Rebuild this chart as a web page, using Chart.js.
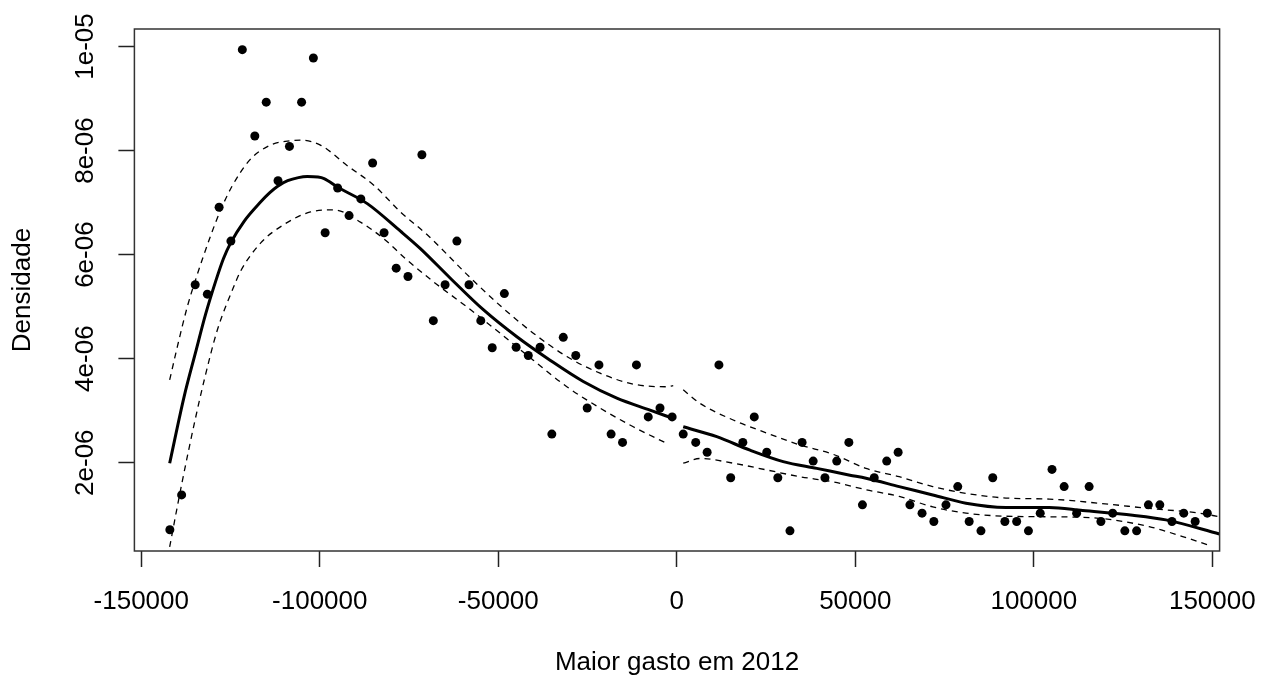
<!DOCTYPE html>
<html><head><meta charset="utf-8">
<script src="https://cdn.jsdelivr.net/npm/chart.js@4.4.1/dist/chart.umd.min.js"></script>
<style>html,body{margin:0;padding:0;background:#fff;overflow:hidden}canvas{display:block}</style>
</head><body>
<canvas id="c" width="1268" height="682"></canvas>
<script>
// ---- data (y values in units of 1e-6) ----
const pointX = [-142000,-138700,-134900,-131500,-128200,-124900,-121700,-118200,-115000,-111700,
  -108500,-105100,-101800,-98500,-95000,-91800,-88500,-85200,-82000,-78600,
  -75300,-71400,-68200,-64900,-61600,-58200,-54900,-51700,-48300,-45000,
  -41600,-38300,-35000,-31800,-28300,-25100,-21800,-18400,-15200,-11300,
  -8000,-4700,-1300,1800,5300,8500,11800,15100,18500,21700,
  25200,28300,31700,35100,38200,41500,44800,48200,52000,55300,
  58800,62000,65300,68700,72000,75400,78700,81900,85200,88500,
  91900,95200,98500,101800,105100,108500,112000,115500,118800,122100,
  125500,128800,132100,135300,138700,142000,145200,148600];
const pointY = [0.71,1.38,5.42,5.24,6.91,6.26,9.94,8.28,8.93,7.42,
  8.08,8.93,9.78,6.42,7.28,6.75,7.07,7.76,6.42,5.74,
  5.58,7.92,4.73,5.42,6.26,5.42,4.73,4.21,5.25,4.22,
  4.06,4.22,2.55,4.41,4.06,3.05,3.88,2.55,2.39,3.88,
  2.88,3.05,2.88,2.55,2.39,2.20,3.88,1.71,2.39,2.88,
  2.20,1.71,0.69,2.39,2.03,1.71,2.03,2.39,1.19,1.71,
  2.03,2.20,1.19,1.03,0.87,1.19,1.54,0.87,0.69,1.71,
  0.87,0.87,0.69,1.03,1.87,1.54,1.03,1.54,0.87,1.03,
  0.69,0.69,1.19,1.19,0.87,1.03,0.87,1.03];

const fitX = [-142050,-138000,-134800,-132000,-129200,-127000,-125000,-121200,-116600,-114000,-111900,-109000,-106000,-103500,-100500,-98800,-95100,-86700,-77400,-71900,-63500,-54200,-44800,-35500,-26200,-16800,-7500,-1000,
  400,
  1800,11200,20500,29800,39200,48500,53000,62300,71700,81000,92200,104300,113700,127700,137000,152000];
const fitY = [1.99,3.27,4.12,4.85,5.48,5.92,6.22,6.64,7.01,7.19,7.31,7.42,7.48,7.50,7.49,7.46,7.30,6.98,6.45,6.12,5.55,4.94,4.42,3.97,3.56,3.24,3.01,2.85,
  null,
  2.69,2.50,2.24,2.02,1.89,1.76,1.70,1.54,1.38,1.22,1.14,1.14,1.08,0.99,0.90,0.63];

const upperX = [-142050,-139900,-137100,-134400,-130800,-128000,-124700,-119600,-114000,-108000,-105300,-99700,-92300,-84800,-77400,-69900,-58800,-49500,-40200,-30800,-21500,-12200,-2800,-1000,
  400,
  1800,6500,15800,25200,34500,43800,53000,62300,71700,81000,92200,104300,118300,132300,146400,152000];
const upperY = [3.59,4.23,5.00,5.60,6.32,6.82,7.30,7.82,8.10,8.19,8.20,8.10,7.71,7.33,6.82,6.38,5.62,5.02,4.49,4.04,3.72,3.51,3.46,3.48,
  null,
  3.40,3.14,2.82,2.57,2.34,2.16,1.89,1.73,1.54,1.41,1.32,1.30,1.22,1.12,1.03,0.96];

const lowerX = [-142050,-140400,-138700,-136800,-135000,-132400,-128700,-124000,-122200,-116600,-110000,-102600,-96000,-88500,-82000,-76100,-68200,-58900,-49500,-40200,-30800,-21500,-12200,-2800,
  400,
  1800,6500,15800,25200,34500,43800,53000,62300,71700,81000,92200,104300,118300,132300,141700,148700];
const lowerY = [0.38,0.98,1.58,2.22,2.80,3.58,4.55,5.40,5.68,6.22,6.58,6.82,6.86,6.62,6.30,5.93,5.48,5.00,4.49,3.97,3.46,3.05,2.69,2.37,
  null,
  1.99,2.08,1.99,1.86,1.73,1.63,1.48,1.35,1.15,1.03,0.97,0.96,0.93,0.77,0.58,0.42];

const xTicks = [-150000,-100000,-50000,0,50000,100000,150000];
const xTickLabels = ["-150000","-100000","-50000","0","50000","100000","150000"];
const yTicks = [2e-6,4e-6,6e-6,8e-6,1e-5];
const yTickLabels = ["2e-06","4e-06","6e-06","8e-06","1e-05"];
const xTitle = "Maior gasto em 2012";
const yTitle = "Densidade";
const UNIT = 1e-6;

// ---- layout / style ----
const FONT = "'Liberation Sans', Arial, sans-serif";
const FS = 26;
const AREA = {left:134.4, right:1219.6, top:29, bottom:551};

function pairs(xs, ys){ return xs.map((x,i)=>({x:x, y: ys[i]===null ? null : ys[i]*UNIT})); }

const boxPlugin = {
  id:'box',
  afterDatasetsDraw(chart){
    const {ctx, chartArea:a} = chart;
    ctx.save();
    ctx.strokeStyle = '#333';
    ctx.lineWidth = 1.5;
    ctx.strokeRect(a.left, a.top, a.right-a.left, a.bottom-a.top);
    ctx.restore();
  }
};

const lineBase = {showLine:true, borderColor:'#000', pointRadius:0, cubicInterpolationMode:'monotone', spanGaps:false, fill:false};

new Chart(document.getElementById('c').getContext('2d'), {
  type:'scatter',
  data:{datasets:[
    Object.assign({label:'ajuste', data:pairs(fitX, fitY), borderWidth:3, order:1}, lineBase),
    Object.assign({label:'sup', data:pairs(upperX, upperY), borderWidth:1.3, borderDash:[6,5], order:2}, lineBase),
    Object.assign({label:'inf', data:pairs(lowerX, lowerY), borderWidth:1.3, borderDash:[6,5], order:2}, lineBase),
    {label:'pontos', data:pairs(pointX, pointY), showLine:false, pointRadius:4.5, pointBackgroundColor:'#000', pointBorderColor:'#000', pointBorderWidth:0, order:3}
  ]},
  options:{
    responsive:false, animation:false, devicePixelRatio:1,
    layout:{padding:{top:AREA.top, right:1268-AREA.right, left:0, bottom:0}},
    plugins:{legend:{display:false}, tooltip:{enabled:false}},
    scales:{
      x:{
        type:'linear', min:-151930, max:152045,
        afterFit(s){ s.height = 682 - AREA.bottom; s.paddingLeft = 0; s.paddingRight = 0; },
        afterBuildTicks(s){ s.ticks = xTicks.map(v=>({value:v})); },
        ticks:{callback:(v,i)=>xTickLabels[i], color:'#000', font:{family:FONT, size:FS}, padding:19, autoSkip:false, maxRotation:0, minRotation:0},
        grid:{display:true, drawOnChartArea:false, drawTicks:true, tickLength:16, tickWidth:1.5, tickColor:'#222'},
        border:{display:false},
        title:{display:true, text:xTitle, color:'#000', font:{family:FONT, size:FS}, padding:{top:0, bottom:4}}
      },
      y:{
        type:'linear', min:0.302e-6, max:10.337e-6,
        afterFit(s){ s.width = AREA.left; s.paddingTop = 0; s.paddingBottom = 0; },
        afterBuildTicks(s){ s.ticks = yTicks.map(v=>({value:v})); },
        ticks:{callback:(v,i)=>yTickLabels[i], color:'#000', font:{family:FONT, size:FS}, padding:-1, minRotation:90, maxRotation:90, crossAlign:'center', autoSkip:false},
        grid:{display:true, drawOnChartArea:false, drawTicks:true, tickLength:16, tickWidth:1.5, tickColor:'#222'},
        border:{display:false},
        title:{display:true, text:yTitle, color:'#000', font:{family:FONT, size:FS}, padding:{top:7, bottom:0}}
      }
    }
  },
  plugins:[boxPlugin]
});
</script>
</body></html>
